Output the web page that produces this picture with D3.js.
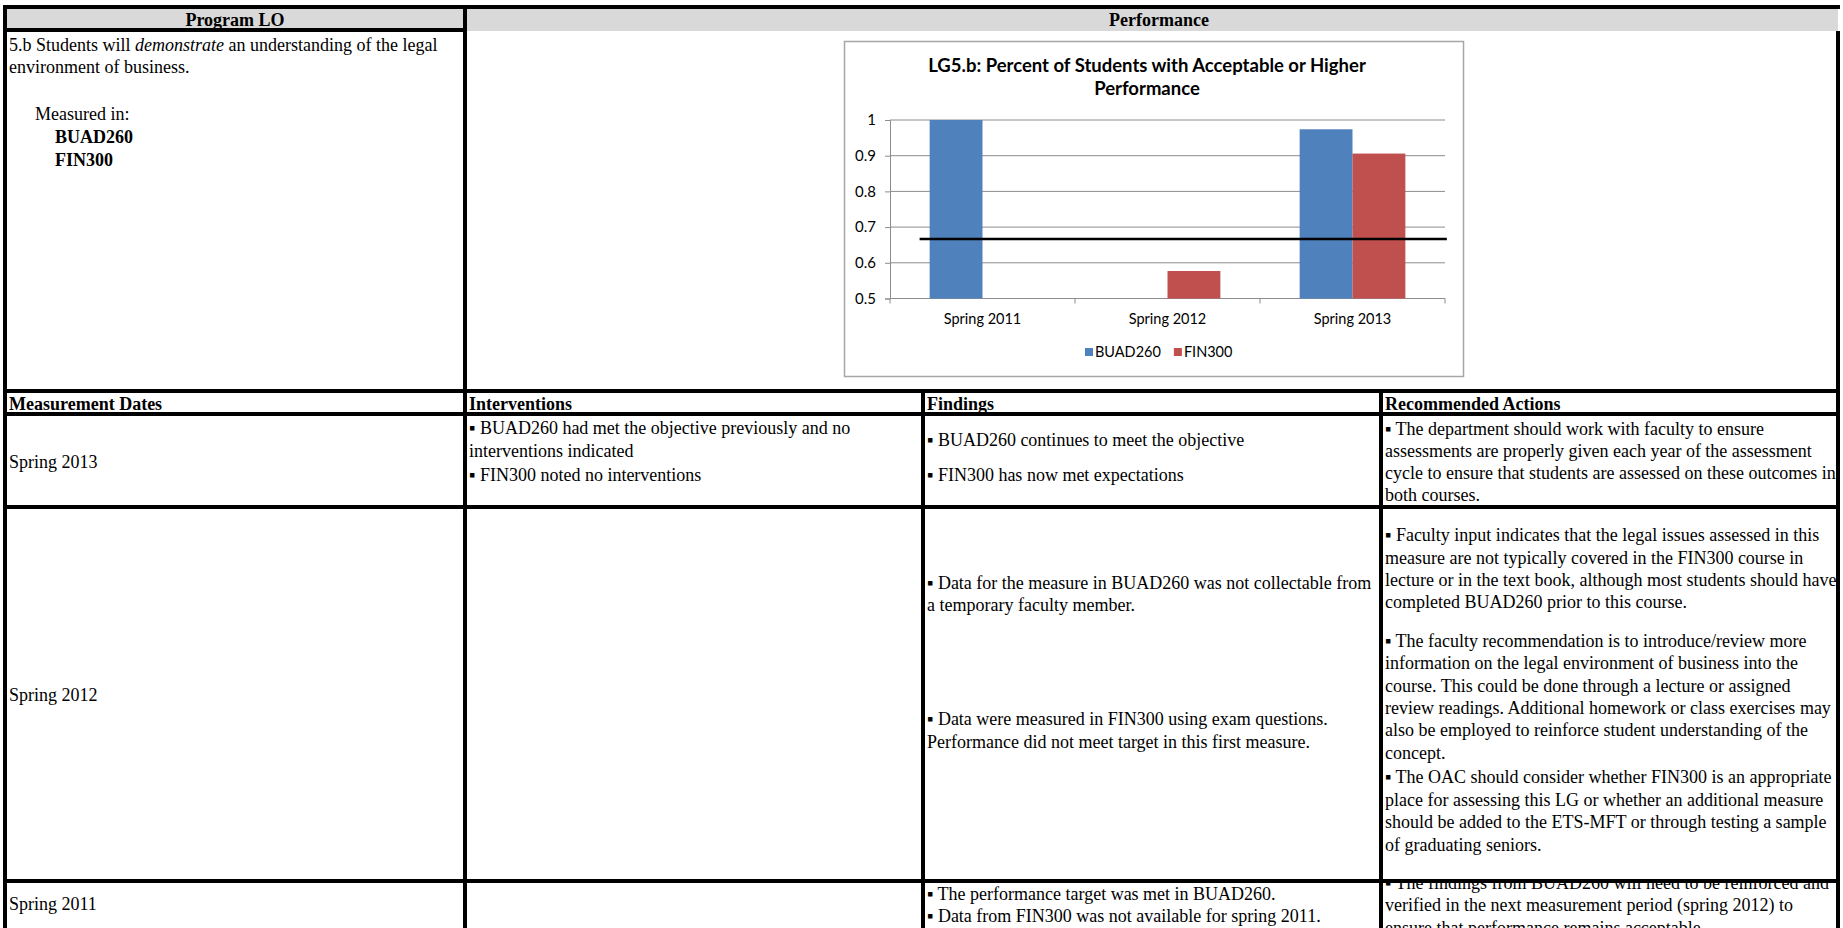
<!DOCTYPE html>
<html><head><meta charset="utf-8">
<script src="https://cdn.jsdelivr.net/npm/d3@7"></script>
<style>body{margin:0;background:#fff;} svg{display:block}</style>
</head><body><svg id="c" width="1843" height="928"></svg>
<script>
// ---------- chart data ----------
const categories = ["Spring 2011", "Spring 2012", "Spring 2013"];
const seriesNames = ["BUAD260", "FIN300"];
const buad260 = [1.0, null, 0.974];
const fin300 = [null, 0.577, 0.906];
const targetValue = 0.667;
const targetSpan = [0.16, 3.01];          // start/end of target line, in category units
const yTicks = [0.5, 0.6, 0.7, 0.8, 0.9, 1];
const seriesColors = ["#4F81BD", "#C0504D"];
const chartTitle = ["LG5.b: Percent of Students with Acceptable or Higher", "Performance"];

// ---------- table text ----------
const headerTop = ["Program LO", "Performance"];
const headerBottom = ["Measurement Dates", "Interventions", "Findings", "Recommended Actions"];
const rowDates = ["Spring 2013", "Spring 2012", "Spring 2011"];

const svg = d3.select("#c");
const serif = "'Liberation Serif','Times New Roman',serif";
const sans = "Lato,'Open Sans',sans-serif";
const FS = 18;

// ===== table backgrounds =====
svg.append("rect").attr("x", 7).attr("y", 9).attr("width", 1831).attr("height", 22).attr("fill", "#D9D9D9");

// ===== chart =====
const g = svg.append("g");
g.append("rect").attr("x", 844.5).attr("y", 41.5).attr("width", 619).attr("height", 335)
  .attr("fill", "#fff").attr("stroke", "#A6A6A6").attr("stroke-width", 1.5);

const plotL = 890, plotR = 1445, plotT = 120, plotB = 298.5;
const x = d3.scaleBand().domain(categories).range([plotL, plotR])
  .paddingInner(1.5 / 3.5).paddingOuter(0.75 / 3.5);
const xs = d3.scaleBand().domain(seriesNames).range([0, x.bandwidth()]);
const xLin = d3.scaleLinear().domain([0, categories.length]).range([plotL, plotR]);
const y = d3.scaleLinear().domain([0.5, 1]).range([plotB, plotT]);

// gridlines
g.append("g").selectAll("line").data(yTicks).join("line")
  .attr("x1", plotL).attr("x2", plotR)
  .attr("y1", d => y(d)).attr("y2", d => y(d))
  .attr("stroke", "#8C8C8C").attr("stroke-width", 1);

// y axis
const yAxis = d3.axisLeft(y).tickValues(yTicks).tickSize(5).tickPadding(9)
  .tickFormat(d => d === 1 ? "1" : d3.format(".1f")(d));
const ya = g.append("g").attr("transform", `translate(${plotL},0)`).call(yAxis);
ya.select(".domain").attr("stroke", "#8C8C8C");
ya.selectAll(".tick line").attr("stroke", "#8C8C8C");
ya.selectAll("text").attr("font-family", sans).attr("font-size", 15).attr("fill", "#000");

// x axis: tick marks at category boundaries, labels at centers
g.append("line").attr("x1", plotL).attr("x2", plotR).attr("y1", plotB).attr("y2", plotB)
  .attr("stroke", "#8C8C8C");
g.append("g").selectAll("line").data(d3.range(categories.length + 1)).join("line")
  .attr("x1", d => xLin(d)).attr("x2", d => xLin(d))
  .attr("y1", plotB).attr("y2", plotB + 5).attr("stroke", "#8C8C8C");
g.append("g").selectAll("text").data(categories).join("text")
  .attr("x", d => x(d) + x.bandwidth() / 2).attr("y", plotB + 25)
  .attr("text-anchor", "middle").attr("font-family", sans).attr("font-size", 14.5)
  .text(d => d);

// bars
const series = [buad260, fin300];
series.forEach((vals, si) => {
  g.append("g").selectAll("rect")
    .data(vals.map((v, i) => ({ v, c: categories[i] })).filter(d => d.v != null))
    .join("rect")
    .attr("x", d => x(d.c) + xs(seriesNames[si]))
    .attr("width", xs.bandwidth())
    .attr("y", d => y(d.v))
    .attr("height", d => y(0.5) - y(d.v))
    .attr("fill", seriesColors[si]);
});

// target line
g.append("path")
  .datum(targetSpan.map(t => ({ t, v: targetValue })))
  .attr("d", d3.line().x(d => xLin(d.t)).y(d => y(d.v)))
  .attr("stroke", "#000").attr("stroke-width", 2.5).attr("fill", "none");

// title
g.append("g").selectAll("text").data(chartTitle).join("text")
  .attr("x", 1147).attr("y", (d, i) => 72 + i * 23)
  .attr("text-anchor", "middle").attr("font-family", sans).attr("font-weight", 700)
  .attr("font-size", 18.5).text(d => d);

// legend
const legend = g.append("g");
let lx = 1085;
seriesNames.forEach((n, i) => {
  legend.append("rect").attr("x", lx).attr("y", 348).attr("width", 8).attr("height", 8).attr("fill", seriesColors[i]);
  const t = legend.append("text").attr("x", lx + 10).attr("y", 357)
    .attr("font-family", sans).attr("font-size", 14.5).text(n);
  lx += 10 + t.node().getComputedTextLength() + 13;
});

// ===== table text =====
function txt(xp, yp, parts, opts = {}) {
  const t = (opts.parent || svg).append("text").attr("x", xp).attr("y", yp)
    .attr("font-family", serif).attr("font-size", FS).attr("fill", "#000");
  if (opts.anchor) t.attr("text-anchor", opts.anchor);
  if (typeof parts === "string") parts = [{ s: parts }];
  parts.forEach(p => {
    const ts = t.append("tspan").text(p.s);
    if (p.b || opts.bold) ts.attr("font-weight", 700);
    if (p.i) ts.attr("font-style", "italic");
  });
  if (opts.bold) t.attr("font-weight", 700);
  return t;
}
function block(xp, baselines, lines, opts) {
  lines.forEach((l, i) => txt(xp, baselines[i], l, opts));
}

// headers
txt(235, 26, headerTop[0], { bold: true, anchor: "middle" });
txt(1159, 26, headerTop[1], { bold: true, anchor: "middle" });
const hx = [9, 469, 927, 1385];
headerBottom.forEach((h, i) => txt(hx[i], 410, h, { bold: true }));

// Program LO cell
txt(9, 51, [{ s: "5.b Students will " }, { s: "demonstrate", i: true }, { s: "  an understanding of the legal" }]);
txt(9, 73, "environment of business.");
txt(35, 120, "Measured in:");
txt(55, 143, "BUAD260", { bold: true });
txt(55, 166, "FIN300", { bold: true });

// dates
const dateY = [468, 701, 910];
rowDates.forEach((d, i) => txt(9, dateY[i], d));

const B = "\u25AA ";
// Spring 2013
block(469, [434, 457, 481], [B + "BUAD260 had met the objective previously and no", "interventions indicated", B + "FIN300 noted no interventions"]);
block(927, [446, 481], [B + "BUAD260 continues to meet the objective", B + "FIN300 has now met expectations"]);
block(1385, [435, 457, 479, 501], [B + "The department should work with faculty to ensure",
  "assessments are properly given each year of the assessment",
  "cycle to ensure that students are assessed on these outcomes in",
  "both courses."]);

// Spring 2012
block(927, [589, 611], [B + "Data for the measure in BUAD260 was not collectable from", "a temporary faculty member."]);
block(927, [725, 748], [B + "Data were measured in FIN300 using exam questions.", "Performance did not meet target in this first measure."]);
block(1385, [541, 564, 586, 608], [B + "Faculty input indicates that the legal issues assessed in this",
  "measure are not typically covered in the FIN300 course in",
  "lecture or in the text book, although most students should have",
  "completed BUAD260 prior to this course."]);
block(1385, [647, 669, 692, 714, 736, 759], [B + "The faculty recommendation is to introduce/review more",
  "information on the legal environment of business into the",
  "course. This could be done through a lecture or assigned",
  "review readings. Additional homework or class exercises may",
  "also be employed to reinforce student understanding of the",
  "concept."]);
block(1385, [783, 806, 828, 851], [B + "The OAC should consider whether FIN300 is an appropriate",
  "place for assessing this LG or whether an additional measure",
  "should be added to the ETS-MFT or through testing a sample",
  "of graduating seniors."]);

// Spring 2011
block(927, [900, 922], [B + "The performance target was met in BUAD260.", B + "Data from FIN300 was not available for spring 2011."]);
svg.append("clipPath").attr("id", "clip11").append("rect").attr("x", 1383).attr("y", 883).attr("width", 453).attr("height", 60);
const c11 = svg.append("g").attr("clip-path", "url(#clip11)");
block(1385, [889, 911, 934], [B + "The findings from BUAD260 will need to be reinforced and",
  "verified in the next measurement period (spring 2012) to",
  "ensure that performance remains acceptable."], { parent: c11 });

// ===== borders =====
const borders = svg.append("g").attr("fill", "#000");
const hLines = [[3, 1840, 5], [3, 467, 28], [3, 1840, 389], [3, 1840, 412], [3, 1840, 505], [3, 1840, 879]];
hLines.forEach(([x1, x2, yy]) => borders.append("rect").attr("x", x1).attr("y", yy).attr("width", x2 - x1).attr("height", 4));
const vLines = [[3, 5, 928], [463, 5, 928], [921, 389, 928], [1379, 389, 928], [1836, 31, 928]];
vLines.forEach(([xx, y1, y2]) => borders.append("rect").attr("x", xx).attr("y", y1).attr("width", 4).attr("height", y2 - y1));
</script></body></html>
